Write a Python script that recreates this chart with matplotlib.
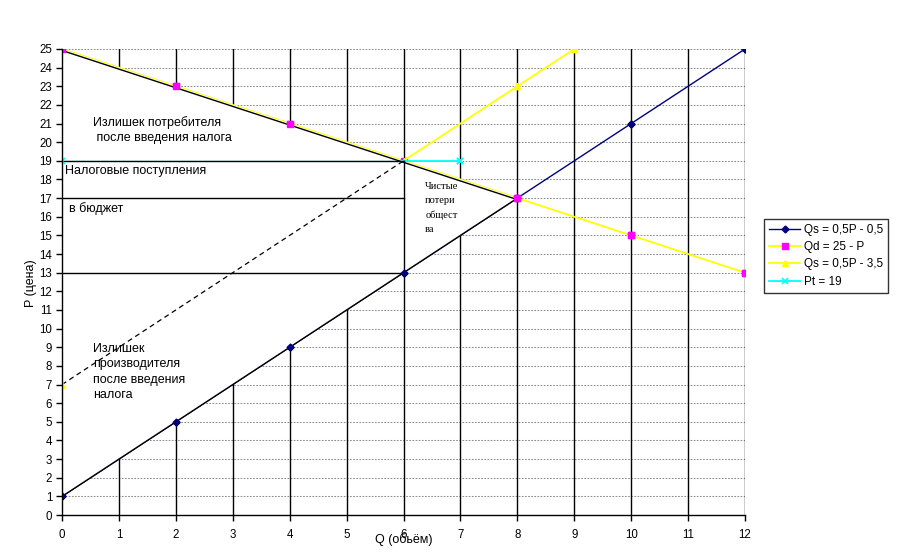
import matplotlib
matplotlib.use('Agg')
import matplotlib.pyplot as plt
from matplotlib.patches import Polygon

plt.rcParams['font.family'] = ['Liberation Sans', 'DejaVu Sans']

# series data (Q on x, P on y)
qs_q = [0, 2, 4, 6, 8, 10, 12]
qs_p = [1, 5, 9, 13, 17, 21, 25]
qd_q = [0, 2, 4, 6, 8, 10, 12]
qd_p = [25, 23, 21, 19, 17, 15, 13]
qs2_q = [0, 2, 4, 6, 8, 9]
qs2_p = [7, 11, 15, 19, 23, 25]
pt_q = [0, 7]
pt_p = [19, 19]

# equilibrium points used for the drawn areas
q_tax, p_buy, p_sell = 6, 19, 13
q_eq, p_eq = 8, 17
p_mid = 17

fig = plt.figure(figsize=(9, 5.56), dpi=100)
ax = fig.add_axes([0.0689, 0.0737, 0.7589, 0.8382])

ax.set_xlim(0, 12)
ax.set_ylim(0, 25)
ax.set_xticks(range(0, 13))
ax.set_yticks(range(0, 26))
ax.tick_params(axis='both', direction='out', length=4, width=1,
               labelsize=8.3, colors='black', pad=3)
ax.tick_params(axis='x', pad=6)
for s in ('top', 'right'):
    ax.spines[s].set_visible(False)
for s in ('left', 'bottom'):
    ax.spines[s].set_linewidth(1)
    ax.spines[s].set_zorder(6)

# grid: solid black verticals, dotted grey horizontals
for x in range(1, 13):
    ax.axvline(x, color='black', lw=1, zorder=0.5)
for y in range(1, 26):
    ax.axhline(y, color='#8c8c8c', lw=0.75, ls=(0, (1.6, 1.4)), zorder=0.4)

# series
l1, = ax.plot(qs_q, qs_p, color='#000080', lw=1, marker='D', ms=3.5,
              label='Qs = 0,5P - 0,5', zorder=2)
l2, = ax.plot(qd_q, qd_p, color='#FFFF00', lw=1.3, marker='s', ms=5,
              mfc='#FF00FF', mec='#FF00FF', label='Qd = 25 - P', zorder=2)
l3, = ax.plot(qs2_q, qs2_p, color='#FFFF00', lw=1.3, marker='^', ms=5,
              label='Qs = 0,5P - 3,5', zorder=2)
l4, = ax.plot(pt_q, pt_p, color='#00FFFF', lw=1.3, marker='x', ms=5,
              mew=1.2, label='Pt = 19', zorder=2)

# white areas on top of the grid
areas = [
    [(0, qd_p[0]), (q_tax, p_buy), (0, p_buy)],
    [(0, p_sell), (q_tax, p_sell), (q_tax, p_buy), (0, p_buy)],
    [(0, qs_p[0]), (q_tax, p_sell), (0, p_sell)],
    [(q_tax, p_buy), (q_eq, p_eq), (q_tax, p_sell)],
]
for pts in areas:
    ax.add_patch(Polygon(pts, closed=True, fc='white', ec='none', zorder=3))

# drawn black lines
k = dict(color='black', lw=1, zorder=4)
ax.plot([0, q_eq], [qd_p[0] - 0.08, p_eq - 0.08], **k)
ax.plot([0, q_eq], [qs_p[0], p_eq], **k)
ax.plot([0, q_tax], [p_buy, p_buy], **k)
ax.plot([0, q_tax], [p_mid, p_mid], **k)
ax.plot([0, q_tax], [p_sell, p_sell], **k)
ax.plot([q_tax, q_tax], [p_sell, p_buy], **k)
ax.plot([0, q_tax], [qs2_p[0], p_buy], color='black', lw=0.9,
        ls=(0, (4, 3)), zorder=4)

# markers again over the white areas
ax.plot(qs_q, qs_p, ls='none', marker='D', ms=3.5, color='#000080', zorder=5)
ax.plot([0, 2, 4, 8, 10, 12], [25, 23, 21, 17, 15, 13], ls='none',
        marker='s', ms=5, color='#FF00FF', zorder=5)
ax.plot([0, 8, 9], [7, 23, 25], ls='none', marker='^', ms=5,
        color='#FFFF00', zorder=5)
ax.plot(pt_q, pt_p, ls='none', marker='x', ms=5, mew=1.2,
        color='#00FFFF', zorder=5)

# texts
t = dict(fontsize=9, color='black', zorder=7)
ax.text(0.55, 21.4, 'Излишек потребителя\n после введения налога',
        ha='left', va='top', linespacing=1.35, **t)
ax.text(0.06, 18.45, 'Налоговые поступления', ha='left', va='center', **t)
ax.text(0.12, 16.45, 'в бюджет', ha='left', va='center', **t)
ax.text(0.55, 9.25, 'Излишек\nпроизводителя\nпосле введения\nналога',
        ha='left', va='top', linespacing=1.4, **t)
ax.text(6.38, 17.85, 'Чистые\nпотери\nобщест\nва', ha='left', va='top',
        fontsize=7.5, family='Liberation Serif', linespacing=1.72, zorder=7)

fig.text(0.449, 0.029, 'Q (обьём)', ha='center', va='center', fontsize=9)
fig.text(0.034, 0.49, 'P (цена)', ha='center', va='center', fontsize=9,
         rotation=90)

leg = fig.legend(handles=[l1, l2, l3, l4], loc='upper left',
                 bbox_to_anchor=(0.849, 0.607), fontsize=8.5,
                 frameon=True, fancybox=False, edgecolor='black',
                 handlelength=2.6, handletextpad=0.3, borderpad=0.45,
                 labelspacing=0.45, borderaxespad=0)
leg.get_frame().set_linewidth(1)

fig.savefig('out.png', dpi=100)
